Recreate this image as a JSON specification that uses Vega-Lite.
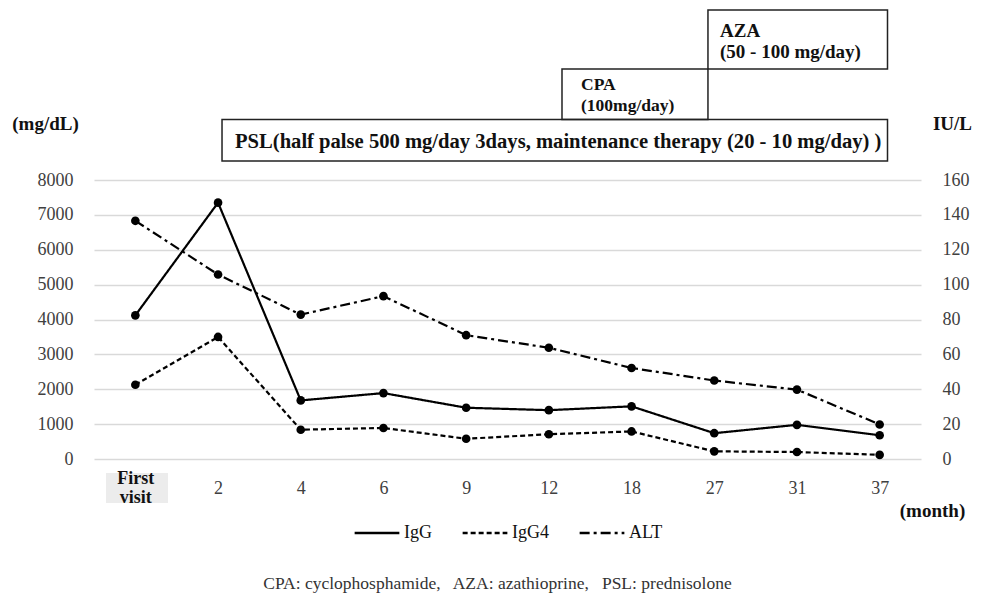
{
  "$schema": "https://vega.github.io/schema/vega-lite/v6.json",
  "width": 827,
  "height": 454,
  "autosize": {"type": "none"},
  "padding": {"left": 94, "top": 5, "right": 67, "bottom": 136},
  "background": "white",
  "config": {"view": {"stroke": null}, "font": "Liberation Serif"},
  "title": {
    "text": "CPA: cyclophosphamide,\u00a0\u00a0 AZA: azathioprine,\u00a0\u00a0 PSL: prednisolone",
    "orient": "bottom", "anchor": "middle", "offset": 33, "dx": -10,
    "font": "Liberation Serif", "fontSize": 17.5, "fontWeight": "normal", "color": "#333333"
  },
  "datasets": {
    "labs": [
      {"visit": "First visit", "series": "IgG", "value": 4120},
      {"visit": "2", "series": "IgG", "value": 7350},
      {"visit": "4", "series": "IgG", "value": 1680},
      {"visit": "6", "series": "IgG", "value": 1890},
      {"visit": "9", "series": "IgG", "value": 1470},
      {"visit": "12", "series": "IgG", "value": 1400},
      {"visit": "18", "series": "IgG", "value": 1510},
      {"visit": "27", "series": "IgG", "value": 740},
      {"visit": "31", "series": "IgG", "value": 980},
      {"visit": "37", "series": "IgG", "value": 680},
      {"visit": "First visit", "series": "IgG4", "value": 2130},
      {"visit": "2", "series": "IgG4", "value": 3500},
      {"visit": "4", "series": "IgG4", "value": 840},
      {"visit": "6", "series": "IgG4", "value": 890},
      {"visit": "9", "series": "IgG4", "value": 580},
      {"visit": "12", "series": "IgG4", "value": 710},
      {"visit": "18", "series": "IgG4", "value": 790},
      {"visit": "27", "series": "IgG4", "value": 220},
      {"visit": "31", "series": "IgG4", "value": 200},
      {"visit": "37", "series": "IgG4", "value": 120},
      {"visit": "First visit", "series": "ALT", "value": 136.6},
      {"visit": "2", "series": "ALT", "value": 105.8},
      {"visit": "4", "series": "ALT", "value": 82.8},
      {"visit": "6", "series": "ALT", "value": 93.4},
      {"visit": "9", "series": "ALT", "value": 71},
      {"visit": "12", "series": "ALT", "value": 63.8},
      {"visit": "18", "series": "ALT", "value": 52.2},
      {"visit": "27", "series": "ALT", "value": 45},
      {"visit": "31", "series": "ALT", "value": 39.8},
      {"visit": "37", "series": "ALT", "value": 19.8}
    ],
    "treat": [
      {"drug": "PSL", "start": 1.548, "end": 9.595, "low": 8545, "high": 9735, "labelX": 1.705, "labelY": 9090, "label": ["PSL(half palse 500 mg/day 3days, maintenance therapy (20 - 10 mg/day) )"]},
      {"drug": "CPA", "start": 5.659, "end": 7.424, "low": 9735, "high": 11183, "labelX": 5.889, "labelY": 10724, "label": ["CPA", "(100mg/day)"]},
      {"drug": "AZA", "start": 7.424, "end": 9.595, "low": 11183, "high": 12875, "labelX": 7.57, "labelY": 12272, "label": ["AZA", "(50 - 100 mg/day)"]}
    ]
  },
  "layer": [
    {
      "layer": [
        {
          "data": {"values": [{"x0": 0.145, "x1": 0.895, "y0": -1262, "y1": -401}]},
          "mark": {"type": "rect", "fill": "#ececec"},
          "encoding": {
            "x": {"field": "x0", "type": "quantitative", "scale": {"domain": [0, 10], "nice": false, "zero": false}, "axis": null},
            "x2": {"field": "x1"},
            "y": {"field": "y0", "type": "quantitative", "scale": {"domain": [0, 13018], "nice": false}, "axis": null},
            "y2": {"field": "y1"}
          }
        },
        {
          "data": {"name": "treat"},
          "mark": {"type": "rect", "fillOpacity": 0, "fill": "white", "stroke": "#222222", "strokeWidth": 1.5},
          "encoding": {
            "x": {"field": "start", "type": "quantitative"},
            "x2": {"field": "end"},
            "y": {"field": "low", "type": "quantitative"},
            "y2": {"field": "high"}
          }
        },
        {
          "data": {"name": "treat"},
          "mark": {"type": "text", "align": "left", "baseline": "middle", "fontWeight": "bold", "font": "Liberation Serif", "lineHeight": 21, "color": "#111111"},
          "encoding": {
            "x": {"field": "labelX", "type": "quantitative"},
            "y": {"field": "labelY", "type": "quantitative"},
            "text": {"field": "label"},
            "size": {"field": "drug", "type": "nominal", "scale": {"type": "ordinal", "domain": ["PSL", "CPA", "AZA"], "range": [20.6, 17.5, 19]}, "legend": null}
          }
        }
      ]
    },
    {
      "data": {"name": "labs"},
      "transform": [{"filter": "datum.series != 'ALT'"}],
      "mark": {"type": "line", "color": "black", "strokeWidth": 2.2, "point": {"filled": true, "size": 75, "color": "black"}},
      "encoding": {
        "x": {
          "field": "visit", "type": "ordinal",
          "sort": ["First visit", "2", "4", "6", "9", "12", "18", "27", "31", "37"],
          "axis": {
            "orient": "bottom",
            "title": "(month)", "domain": false, "ticks": false, "labelBaseline": "middle", "labelAngle": 0,
            "labelPadding": {"condition": {"test": "datum.value == 'First visit'", "value": 19}, "value": 29},
            "labelExpr": "datum.value == 'First visit' ? ['First', 'visit'] : datum.label",
            "labelFontWeight": {"condition": {"test": "datum.value == 'First visit'", "value": "bold"}, "value": "normal"},
            "labelColor": {"condition": {"test": "datum.value == 'First visit'", "value": "#111111"}, "value": "#404040"},
            "labelLineHeight": 19, "labelFontSize": 18, "labelFont": "Liberation Serif", "labelOverlap": false, "labelBound": false,
            "titleX": 838, "titleY": 51, "titleAlign": "center", "titleBaseline": "middle", "titleFontWeight": "bold", "titleFontSize": 19,
            "titleFont": "Liberation Serif", "titleColor": "#111111", "zindex": 1
          }
        },
        "y": {
          "field": "value", "type": "quantitative",
          "scale": {"domain": [0, 13018], "nice": false},
          "axis": {
            "orient": "left",
            "values": [0, 1000, 2000, 3000, 4000, 5000, 6000, 7000, 8000],
            "format": "d", "grid": true, "gridColor": "#d9d9d9", "gridWidth": 1.6, "domain": false, "ticks": false,
            "labelPadding": 21, "labelFont": "Liberation Serif", "labelFontSize": 18, "labelColor": "#404040",
            "title": "(mg/dL)", "titleAngle": 0, "titleX": -49, "titleY": 118, "titleAlign": "center", "titleBaseline": "middle",
            "titleFontWeight": "bold", "titleFontSize": 19, "titleFont": "Liberation Serif", "titleColor": "#111111"
          }
        },
        "strokeDash": {
          "field": "series", "type": "nominal",
          "scale": {"domain": ["IgG", "IgG4", "ALT"], "range": [[1, 0], [5, 3], [10, 4, 3, 4]]},
          "legend": {
            "title": null, "orient": "none", "legendX": 259, "legendY": 504, "direction": "horizontal",
            "symbolType": "stroke", "symbolSize": 2000, "symbolStrokeWidth": 2.5, "symbolStrokeColor": "black",
            "labelFont": "Liberation Serif", "labelFontSize": 18, "labelColor": "#111111", "columnPadding": 25, "labelOffset": 3,
            "encode": {"symbols": {"update": {"stroke": {"value": "black"}, "strokeWidth": {"value": 2.5}, "opacity": {"value": 1}, "strokeOpacity": {"value": 1}}}}
          }
        }
      }
    },
    {
      "data": {"name": "labs"},
      "transform": [{"filter": "datum.series == 'ALT'"}],
      "mark": {"type": "line", "color": "black", "strokeWidth": 2.2, "point": {"filled": true, "size": 75, "color": "black"}},
      "encoding": {
        "x": {"field": "visit", "type": "ordinal", "sort": ["First visit", "2", "4", "6", "9", "12", "18", "27", "31", "37"], "axis": null},
        "y": {
          "field": "value", "type": "quantitative",
          "scale": {"domain": [0, 260.36], "nice": false},
          "axis": {
            "orient": "right", "values": [0, 20, 40, 60, 80, 100, 120, 140, 160], "grid": false, "domain": false, "ticks": false,
            "labelPadding": 21, "labelFont": "Liberation Serif", "labelFontSize": 18, "labelColor": "#404040",
            "title": "IU/L", "titleAngle": 0, "titleX": 31, "titleY": 118, "titleAlign": "center", "titleBaseline": "middle",
            "titleFontWeight": "bold", "titleFontSize": 19, "titleFont": "Liberation Serif", "titleColor": "#111111"
          }
        },
        "strokeDash": {
          "field": "series", "type": "nominal",
          "scale": {"domain": ["IgG", "IgG4", "ALT"], "range": [[1, 0], [5, 3], [10, 4, 3, 4]]}
        }
      }
    }
  ],
  "resolve": {"scale": {"x": "independent", "y": "independent"}}
}
